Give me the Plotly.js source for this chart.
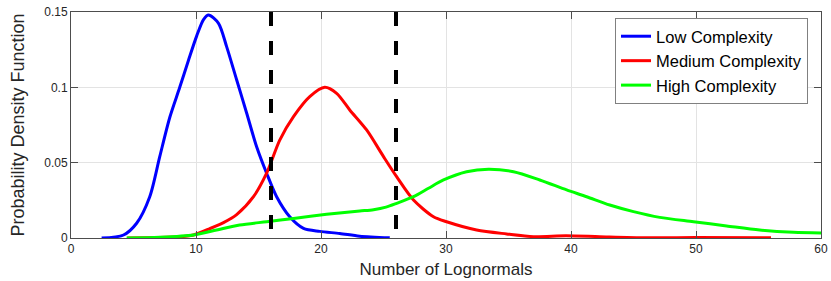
<!DOCTYPE html>
<html>
<head>
<meta charset="utf-8">
<script src="https://cdn.plot.ly/plotly-3.0.1.min.js"></script>
<style>html,body{margin:0;padding:0;background:#fff;}#chart{width:831px;height:281px;}</style>
</head>
<body>
<div id="chart"></div>
<script>
// Low complexity
const lowX = [2.45, 4.2, 5.25, 6.3, 7.1, 7.9, 8.7, 9.4, 10.05, 10.6, 11.0, 11.8, 12.45, 13.25, 14.05, 14.85, 15.65, 16.45, 17.5, 18.6, 19.9, 21.5, 23.1, 25.5];
const lowY = [0, 0.002, 0.0098, 0.0274, 0.054, 0.080, 0.100, 0.118, 0.134, 0.145, 0.148, 0.1425, 0.127, 0.105, 0.083, 0.0606, 0.043, 0.0274, 0.0141, 0.0064, 0.0044, 0.003, 0.0012, 0.0001];
// Medium complexity
const medX = [4.5, 7, 9.0, 9.8, 11.1, 12.2, 13.25, 14.6, 15.65, 16.7, 17.8, 19.1, 20.3, 21.25, 22.3, 23.65, 25.0, 26.05, 27.4, 29.0, 30.05, 32.45, 34.85, 37.0, 39.6, 42.3, 46, 50, 56];
const medY = [0, 0.0003, 0.001, 0.002, 0.0062, 0.0102, 0.0155, 0.0274, 0.043, 0.065, 0.0805, 0.0938, 0.1, 0.096, 0.085, 0.0717, 0.054, 0.0407, 0.0252, 0.0141, 0.0108, 0.0053, 0.0027, 0.0009, 0.0015, 0.0009, 0.0002, 0.0003, 0.0002];
// High complexity
const highX = [4.45, 7.1, 9.8, 11.65, 13.5, 15.65, 17.8, 20.45, 23.1, 24.2, 25.2, 26.05, 27.4, 28.6, 29.8, 31.65, 33.4, 35.4, 37.5, 39.65, 41.25, 43.1, 45.0, 47.1, 49.8, 52.45, 55.1, 57.8, 60.0];
const highY = [0, 0.0005, 0.002, 0.0053, 0.0086, 0.0108, 0.013, 0.0157, 0.0179, 0.0188, 0.0205, 0.023, 0.0274, 0.033, 0.0385, 0.044, 0.0456, 0.044, 0.0385, 0.0319, 0.0274, 0.0219, 0.0175, 0.0137, 0.0108, 0.008, 0.0053, 0.0038, 0.0034];
// Thresholds (dashed vertical lines)
const thresholds = [16, 26];
const seriesNames = ['Low Complexity', 'Medium Complexity', 'High Complexity'];
const xTicks = [0, 10, 20, 30, 40, 50, 60];
const yTicks = [0, 0.05, 0.1, 0.15];
const yTickText = ['0', '0.05', '0.1', '0.15'];

const FONT = 'Liberation Sans, Arial, sans-serif';
const traces = [
  {x: lowX, y: lowY, name: seriesNames[0], mode: 'lines', line: {color: '#0000ff', width: 3, shape: 'spline', smoothing: 0.8}},
  {x: medX, y: medY, name: seriesNames[1], mode: 'lines', line: {color: '#ff0000', width: 3, shape: 'spline', smoothing: 0.8}},
  {x: highX, y: highY, name: seriesNames[2], mode: 'lines', line: {color: '#00ff00', width: 3, shape: 'spline', smoothing: 0.8}}
];
thresholds.forEach(t => {
  traces.push({x: [t, t], y: [yTicks[yTicks.length - 1], yTicks[0]], mode: 'lines', showlegend: false,
    line: {color: '#000000', width: 4, dash: '14px,15px'}, hoverinfo: 'skip'});
});

const axisCommon = {
  showline: true, linecolor: '#4d4d4d', linewidth: 1, mirror: 'allticks',
  ticks: 'inside', ticklen: 7, tickcolor: '#4d4d4d', tickwidth: 1,
  showgrid: true, gridcolor: '#e3e3e3', gridwidth: 1, zeroline: false,
  tickfont: {family: FONT, size: 12, color: '#262626'}
};

const layout = {
  width: 831, height: 281,
  margin: {l: 71, r: 10, t: 12, b: 43},
  paper_bgcolor: '#ffffff', plot_bgcolor: '#ffffff',
  showlegend: true,
  xaxis: Object.assign({}, axisCommon, {
    range: [0, 60], tickvals: xTicks,
    title: {text: 'Number of Lognormals', font: {family: FONT, size: 17, color: '#262626'}, standoff: 7}
  }),
  yaxis: Object.assign({}, axisCommon, {
    range: [0, 0.15], tickvals: yTicks, ticktext: yTickText,
    title: {text: 'Probability Density Function', font: {family: FONT, size: 18, color: '#262626'}, standoff: 14}
  }),
  legend: {
    x: 0.9827, xanchor: 'right', y: 0.9735, yanchor: 'top',
    bgcolor: '#ffffff', bordercolor: '#808080', borderwidth: 1,
    font: {family: FONT, size: 16.5, color: '#000000'},
    itemwidth: 30, tracegroupgap: 0
  }
};

Plotly.newPlot('chart', traces, layout, {displayModeBar: false, staticPlot: true});
</script>
</body>
</html>
